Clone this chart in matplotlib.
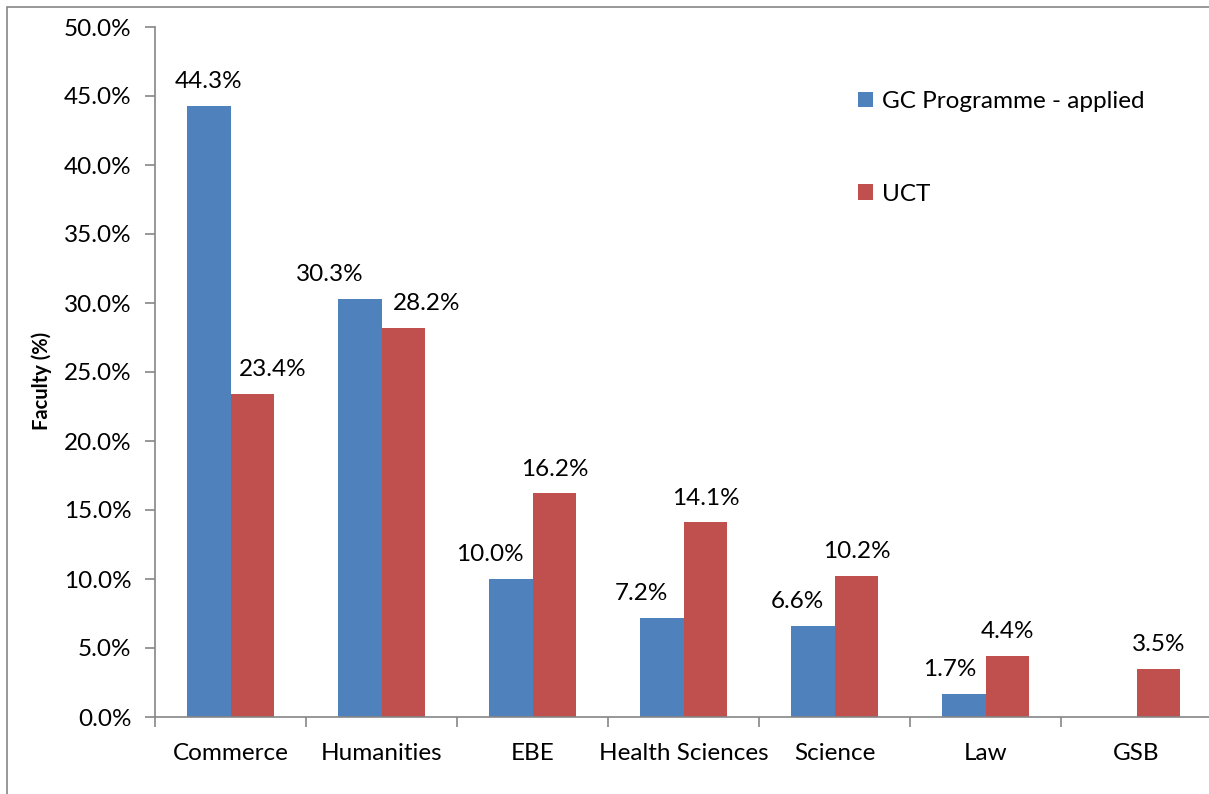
import numpy as np
import matplotlib.pyplot as plt
from matplotlib.patches import Rectangle

plt.rcParams['font.family'] = ['Lato', 'DejaVu Sans']

# data
faculties = ["Commerce", "Humanities", "EBE", "Health Sciences", "Science", "Law", "GSB"]
gc_applied = [44.3, 30.3, 10.0, 7.2, 6.6, 1.7, None]
uct = [23.4, 28.2, 16.2, 14.1, 10.2, 4.4, 3.5]
series_names = ["GC Programme - applied", "UCT"]

# labels were nudged sideways by hand in the original (pixels)
gc_shift = [0, -30, -21, -20, -15, -14, 0]
uct_shift = [20, 23, 0, 0, 0, 0, 0]

blue = "#4f81bd"
red = "#c0504d"
grey = "#868686"
fs = 17.5

W, H = 1209, 794
fig = plt.figure(figsize=(W / 100, H / 100), dpi=100)

# chart border (Excel chart area)
fig.patches.append(Rectangle((7 / W, -0.1), 1.2, 1 - 7 / H + 0.1, transform=fig.transFigure,
                             fill=False, edgecolor=grey, linewidth=1.2))

left, right, bottom, top = 155, 1212, 717, 27
ax = fig.add_axes([left / W, 1 - bottom / H, (right - left) / W, (bottom - top) / H])

x = np.arange(len(faculties))
bw = 0.29
gc_vals = [v if v is not None else 0 for v in gc_applied]
ax.bar(x - bw / 2, gc_vals, bw, color=blue, label=series_names[0])
ax.bar(x + bw / 2, uct, bw, color=red, label=series_names[1])

px = 72 / 100  # points per pixel
for xi, v, dx in zip(x, gc_applied, gc_shift):
    if v is None:
        continue
    ax.annotate(f"{v:.1f}%", (xi - bw / 2, v), xytext=(dx * px, 10), textcoords="offset points",
                ha="center", va="bottom", fontsize=fs)
for xi, v, dx in zip(x, uct, uct_shift):
    ax.annotate(f"{v:.1f}%", (xi + bw / 2, v), xytext=(dx * px, 10), textcoords="offset points",
                ha="center", va="bottom", fontsize=fs)

ax.set_xlim(-0.5, len(faculties) - 0.5)
ax.set_ylim(0, 50)
yt = np.arange(0, 50.1, 5)
ax.set_yticks(yt)
ax.set_yticklabels([f"{t:.1f}%" for t in yt], fontsize=fs)
ax.set_xticks(x)
ax.set_xticklabels(faculties, fontsize=fs)
ax.set_xticks(np.arange(-0.5, len(faculties)), minor=True)
ax.tick_params(axis="x", which="major", length=0, pad=19)
ax.tick_params(axis="x", which="minor", length=7, color=grey, width=1.2)
ax.tick_params(axis="y", length=7, color=grey, width=1.2, pad=10)

for s in ["top", "right"]:
    ax.spines[s].set_visible(False)
for s in ["left", "bottom"]:
    ax.spines[s].set_color(grey)
    ax.spines[s].set_linewidth(1.2)

fig.text(42 / W, 1 - 381 / H, "Faculty (%)", rotation=90, ha="center", va="center",
         fontsize=14.5, fontweight="bold")

ax.legend(loc="upper left", bbox_to_anchor=((858 - left) / (right - left), (bottom - 91) / (bottom - top)),
          frameon=False, fontsize=fs, handlelength=0.6, handleheight=0.6, handletextpad=0.4,
          labelspacing=2.95, borderaxespad=0, borderpad=0)

fig.savefig("out.png", dpi=100)
